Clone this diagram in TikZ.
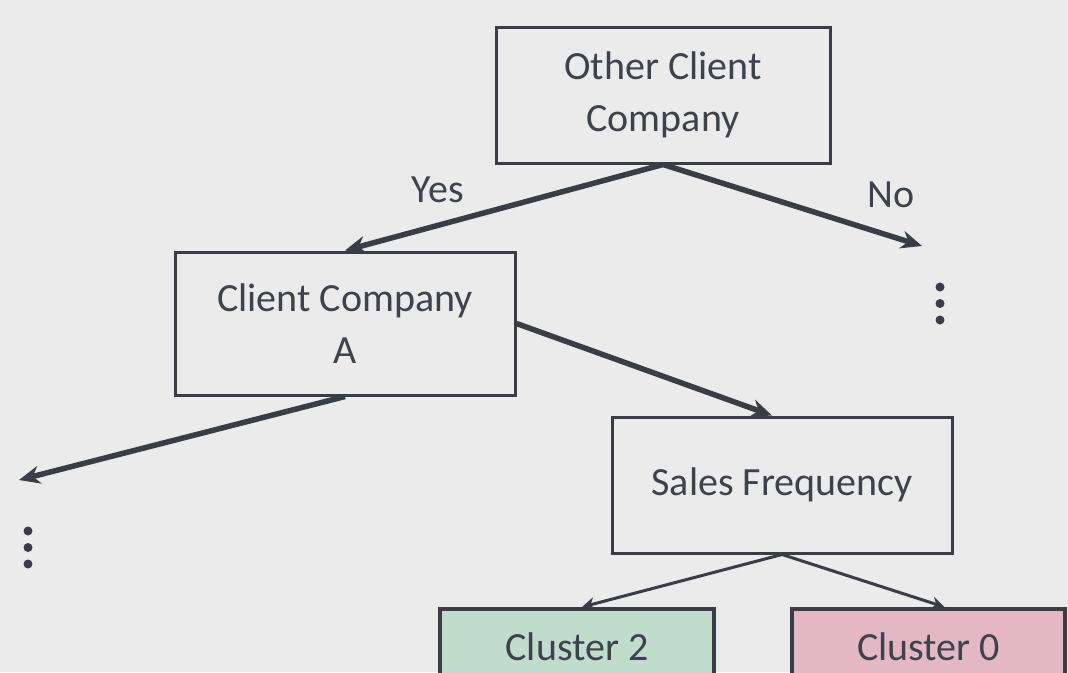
\documentclass[tikz,border=0pt]{standalone}
\usepackage{fontspec}
\setmainfont{Carlito}
\usetikzlibrary{arrows.meta,calc}
\definecolor{bg}{HTML}{EBEBEB}
\definecolor{ink}{HTML}{3A3D44}
\definecolor{txt}{HTML}{3E424A}
\definecolor{mint}{HTML}{BFDCCD}
\definecolor{rose}{HTML}{E3B7C4}
\begin{document}
\begin{tikzpicture}[x=1pt,y=-1pt,
  box/.style={draw=ink,line width=3pt,text=txt,align=center,
    font=\fontsize{40}{52}\selectfont,inner sep=0pt},
  leaf/.style={box,line width=4pt},
  bigarrow/.style={draw=ink,line width=5.5pt,-{Stealth[length=21pt,width=18pt]}},
  smallarrow/.style={draw=ink,line width=3pt,-{Stealth[length=13pt,width=13pt]}},
  lbl/.style={text=txt,font=\fontsize{40}{48}\selectfont,inner sep=0pt},
  dot/.style={circle,fill=ink,inner sep=0pt,minimum size=9pt}]
\fill[bg] (0,0) rectangle (1068,672);
\useasboundingbox (0,0) rectangle (1068,672);
\begin{scope}
\clip (0,0) rectangle (1068,672);

% heading running off the top edge
\node[anchor=base west,inner sep=0pt,text=txt,font=\fontsize{48}{48}\selectfont]
  (heading) at (38,-1.5) {across clients};

% decision nodes
\node[box,minimum width=334pt,minimum height=136pt] (other) at (663,95)
  {Other Client\\Company};
\node[box,minimum width=340pt,minimum height=143pt] (clientA) at (345,323.5)
  {Client Company\\A};
\node[box,minimum width=340pt,minimum height=136pt] (sales) at (782,485)
  {Sales Frequency};

% leaves
\node[leaf,fill=mint,minimum width=274pt,minimum height=75pt] (c2) at (577,646.5)
  {Cluster 2};
\node[leaf,fill=rose,minimum width=273pt,minimum height=75pt] (c0) at (928.5,646.5)
  {Cluster 0};

% open branches
\coordinate (noEnd) at (922,246);
\coordinate (leftEnd) at (19,480);
\node[dot] (r1) at (940,287) {};
\node[dot] (r2) at (940,303.5) {};
\node[dot] (r3) at (940,320) {};
\node[dot] (l1) at (28,531) {};
\node[dot] (l2) at (28,547.5) {};
\node[dot] (l3) at (28,564) {};

% connectors
\draw[bigarrow] (other.south) -- (clientA.north);
\draw[bigarrow] (other.south) -- (noEnd);
\draw[bigarrow] (clientA.east) -- ($(sales.north)+(-10,0)$);
\draw[bigarrow] (clientA.south) -- (leftEnd);
\draw[smallarrow] (sales.south) -- ($(c2.north)+(5,0)$);
\draw[smallarrow] (sales.south) -- ($(c0.north)+(16,0)$);

% branch labels
\node[lbl,anchor=base] (yes) at (438,202) {Yes};
\node[lbl,anchor=base] (no) at (891,207) {No};
\end{scope}
\end{tikzpicture}
\end{document}
